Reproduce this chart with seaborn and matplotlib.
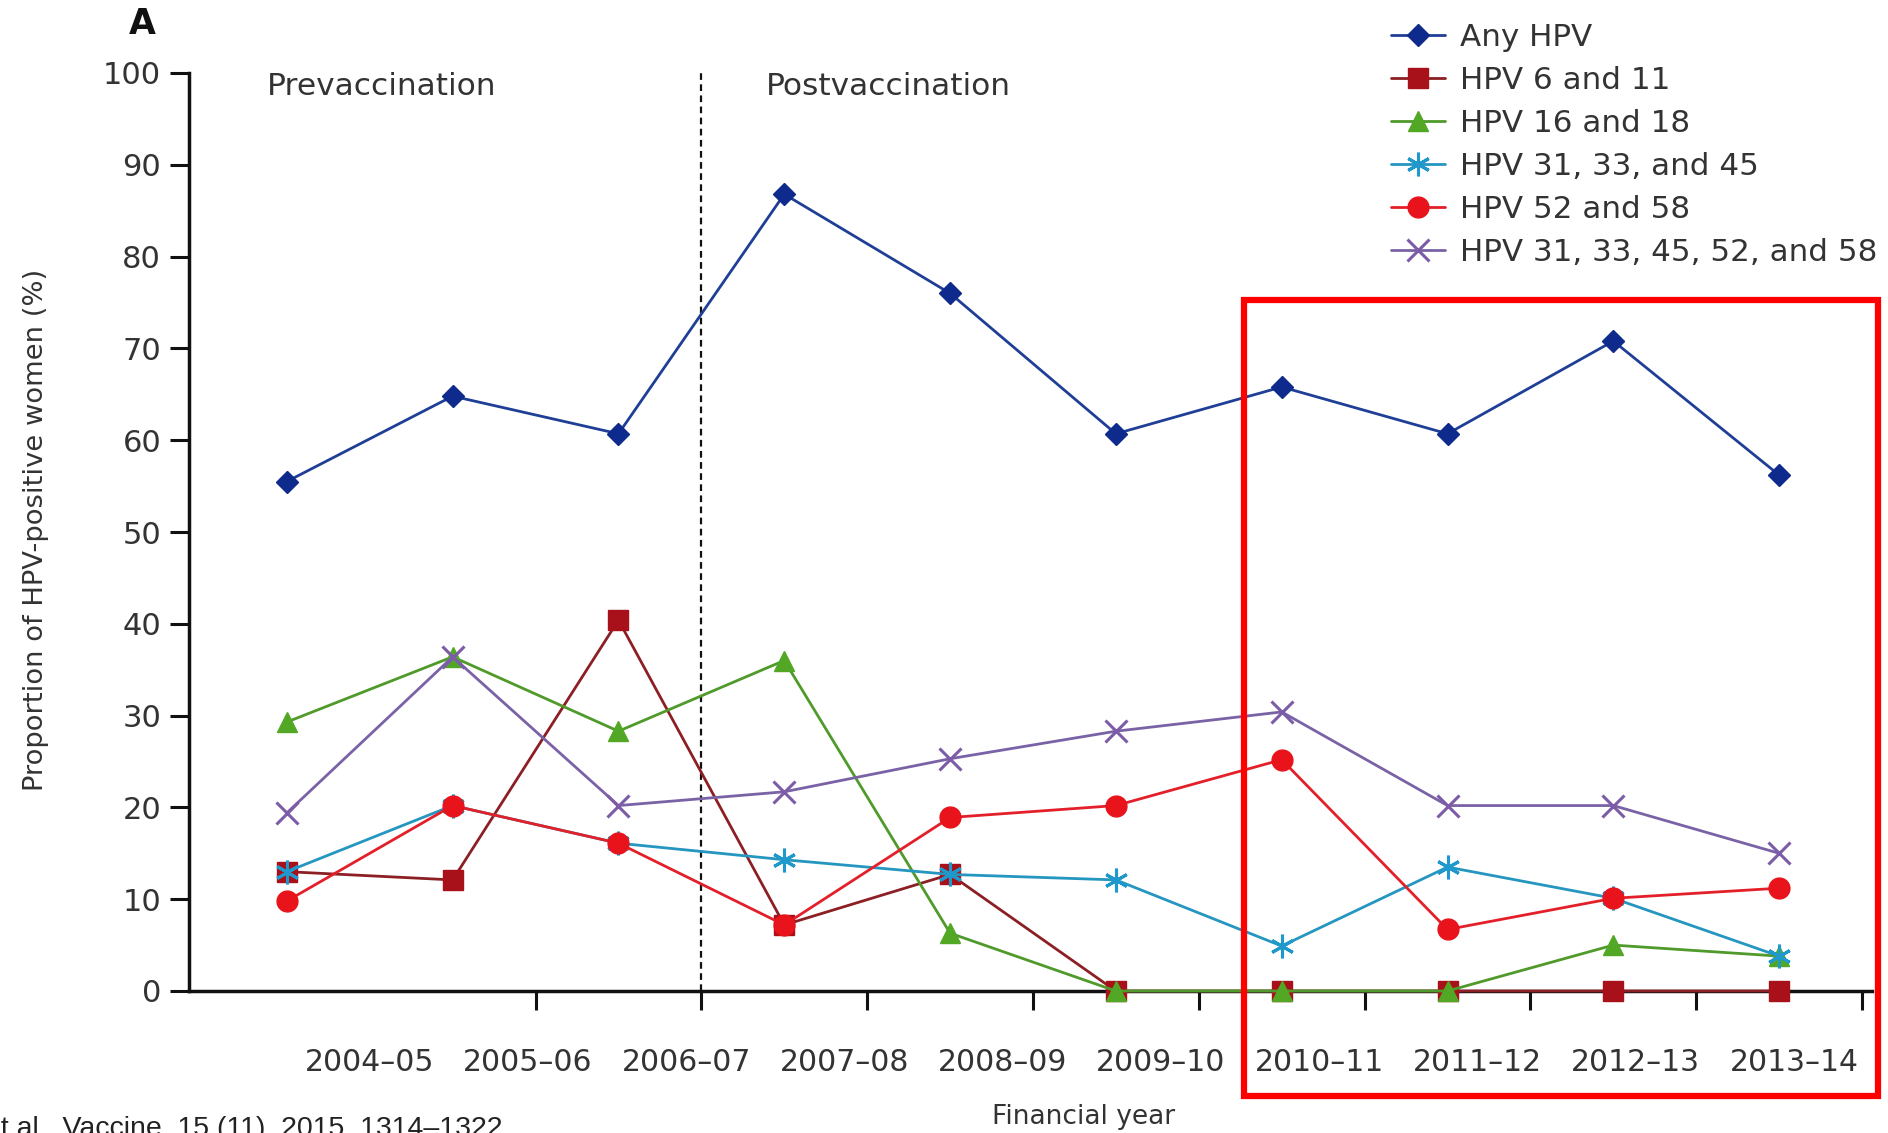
import numpy as np
import pandas as pd
import matplotlib
matplotlib.use("Agg")
import matplotlib.pyplot as plt
from matplotlib.patches import Rectangle
import seaborn as sns

years = ["2004–05", "2005–06", "2006–07", "2007–08", "2008–09",
         "2009–10", "2010–11", "2011–12", "2012–13", "2013–14"]
any_hpv = [55.5, 64.8, 60.7, 86.8, 76.0, 60.7, 65.8, 60.7, 70.8, 56.2]
hpv_6_11 = [13.0, 12.1, 40.4, 7.2, 12.7, 0, 0, 0, 0, 0]
hpv_16_18 = [29.3, 36.4, 28.3, 36.0, 6.3, 0, 0, 0, 5.0, 3.8]
hpv_31_33_45 = [13.0, 20.2, 16.1, 14.3, 12.7, 12.1, 4.9, 13.5, 10.1, 3.8]
hpv_52_58 = [9.8, 20.2, 16.1, 7.2, 18.9, 20.2, 25.2, 6.7, 10.1, 11.2]
hpv_5types = [19.4, 36.4, 20.2, 21.7, 25.3, 28.3, 30.4, 20.2, 20.2, 15.0]

series_names = ["Any HPV", "HPV 6 and 11", "HPV 16 and 18", "HPV 31, 33, and 45",
                "HPV 52 and 58", "HPV 31, 33, 45, 52, and 58"]
series_values = [any_hpv, hpv_6_11, hpv_16_18, hpv_31_33_45, hpv_52_58, hpv_5types]
colors = ["#0d2a8c", "#a8101a", "#52a824", "#1f98cc", "#e8131b", "#7c5ca8"]
line_colors = ["#1f3f96", "#8c1f24", "#4f9a2a", "#2596c0", "#e3202a", "#7a62a6"]
markers = ["D", "s", "^", (6, 2, 0), "o", "x"]
msizes = [11, 15, 15, 17, 15, 16]

sns.set_theme(style="white")
plt.rcParams["font.family"] = ["DejaVu Sans"]

pos = np.arange(len(years))
df = pd.DataFrame({
    "pos": np.tile(pos, len(series_names)),
    "value": np.concatenate(series_values),
    "series": np.repeat(series_names, len(years)),
})

fig = plt.figure(figsize=(18.88, 11.33), dpi=100)
ax = fig.add_axes([189 / 1888, 1 - 991 / 1133, (1872 - 189) / 1888, (991 - 73) / 1133])

for name, col, lcol, mk, ms in zip(series_names, colors, line_colors, markers, msizes):
    sub = df[df["series"] == name]
    sns.lineplot(data=sub, x="pos", y="value", ax=ax, color=lcol, linewidth=2,
                 marker=mk, markersize=ms, markerfacecolor=col, markeredgecolor=col,
                 markeredgewidth=2.2 if mk in ("x", (6, 2, 0)) else 1,
                 label=name, clip_on=False, zorder=3)

ax.set_xlim(-0.59, 9.56)
ax.set_ylim(0, 100)
ax.set_yticks(np.arange(0, 101, 10))
ax.tick_params(axis="y", which="major", direction="out", length=14, width=2.2,
               pad=6, labelsize=22, colors="#111111", left=True)
for t in ax.get_yticklabels():
    t.set_color("#333333")

# x: tick marks between categories, labels below
ax.set_xticks(np.linspace(0.5, 9.09, len(years)))
ax.set_xticklabels(years)
ax.tick_params(axis="x", which="major", length=0, pad=41, labelsize=21.5, labelcolor="#333333")
ax.set_xticks(np.arange(0.5, 9.6, 1.0), minor=True)
ax.tick_params(axis="x", which="minor", direction="out", length=14, width=2.2,
               bottom=True, color="#111111")
ax.set_xlabel("")
ax.set_ylabel("")

for s in ["top", "right"]:
    ax.spines[s].set_visible(False)
for s in ["left", "bottom"]:
    ax.spines[s].set_color("#111111")
    ax.spines[s].set_linewidth(2.5)

ax.vlines(2.5, 0, 100, colors="#111111", linestyles=(0, (3, 2)), linewidth=1.6, zorder=1)

ax.text(0.57, 98.5, "Prevaccination", ha="center", va="center", fontsize=22.5, color="#333333")
ax.text(3.63, 98.5, "Postvaccination", ha="center", va="center", fontsize=22.5, color="#333333")

fig.text(142 / 1888, 1 - 24 / 1133, "A", ha="center", va="center", fontsize=25,
         fontweight="bold", color="#111111")
fig.text(36 / 1888, 1 - 530 / 1133, "Proportion of HPV-positive women (%)", rotation=90,
         ha="center", va="center", fontsize=19.7, color="#333333")
fig.text(1084 / 1888, 1 - 1117 / 1133, "Financial year", ha="center", va="center",
         fontsize=19, color="#333333")
fig.text(-15 / 1888, 1 - 1116 / 1133, "et al., Vaccine, 15 (11), 2015, 1314–1322",
         ha="left", va="top", fontsize=20.5, color="#222222", family="Liberation Sans")

leg = ax.legend(loc="upper left", bbox_to_anchor=(1391 / 1888, 1 - 23 / 1133),
                bbox_transform=fig.transFigure, frameon=False, fontsize=22.3,
                handlelength=1.75, handletextpad=0.48, labelspacing=0.45,
                borderpad=0, borderaxespad=0)
for t in leg.get_texts():
    t.set_color("#333333")

fig.patches.append(Rectangle((1244 / 1888, 1 - 1096 / 1133), (1878 - 1244) / 1888,
                             (1096 - 300) / 1133, transform=fig.transFigure, fill=False,
                             edgecolor="#ff0000", linewidth=4.5, zorder=10))

fig.savefig("out.png", dpi=100)
